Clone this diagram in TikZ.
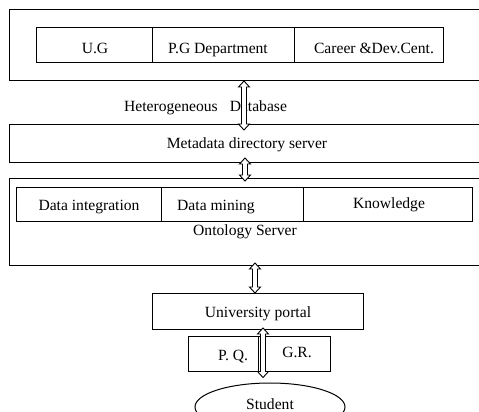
\documentclass[tikz,border=0pt]{standalone}
\usepackage{fontspec}
\setmainfont{Liberation Serif}
\usetikzlibrary{calc,shapes.geometric}

% hollow up-down arrow between two points (top first, bottom second)
\newcommand\hollowarrow[2]{%
  \filldraw[arrowshape] let \p1=(#1), \p2=(#2) in
    (\x1,\y1) -- (\x1+5.5pt,\y1-6pt) -- (\x1+2.5pt,\y1-6pt) -- (\x1+2.5pt,\y2+6pt)
    -- (\x1+5.5pt,\y2+6pt) -- (\x1,\y2) -- (\x1-5.5pt,\y2+6pt) -- (\x1-2.5pt,\y2+6pt)
    -- (\x1-2.5pt,\y1-6pt) -- (\x1-5.5pt,\y1-6pt) -- cycle;}

\begin{document}
\begin{tikzpicture}[x=1pt,y=-1pt,
  font=\fontsize{15.6}{18}\selectfont,
  box/.style={draw, line width=1pt, inner sep=0pt, anchor=north west},
  lbl/.style={anchor=base, inner sep=0pt},
  arrowshape/.style={draw, fill=white, line width=0.9pt, line join=miter}]
\useasboundingbox (0,0) rectangle (479,412);
\clip (0,0) rectangle (479,412);
\fill[white] (0,0) rectangle (479,412);

% source tier
\node[box, minimum width=473, minimum height=71] (campus) at (9,9) {};
\node[box, minimum width=116, minimum height=35] (ug) at (36,27) {};
\node[box, minimum width=142, minimum height=35] (pg) at (152,27) {};
\node[box, minimum width=149, minimum height=35] (cdc) at (294,27) {};
\node[lbl] at (95,53) {U.G};
\node[lbl] at (218,53) {P.G Department};
\node[lbl] at (374,53) {Career \&Dev.Cent.};

\node[lbl, anchor=base west] (hetero) at (124,111) {Heterogeneous\hspace{12pt}Database};

% metadata tier
\node[box, minimum width=473, minimum height=38] (meta) at (9,124) {};
\node[lbl] at (247,148) {Metadata directory server};

% ontology tier
\node[box, minimum width=473, minimum height=87] (onto) at (9,178) {};
\node[box, minimum width=145, minimum height=34] (di) at (16,187) {};
\node[box, minimum width=142, minimum height=34] (dm) at (161,187) {};
\node[box, minimum width=169, minimum height=34] (kn) at (303,187) {};
\node[lbl] at (89,210) {Data integration};
\node[lbl] at (216,210) {Data mining};
\node[lbl] at (389,208) {Knowledge};
\node[lbl] at (245,235) {Ontology Server};

% portal tier
\node[box, minimum width=211, minimum height=36] (portal) at (152,293) {};
\node[lbl] at (258,317) {University portal};
\node[box, minimum width=70, minimum height=35] (pq) at (188,336) {};
\node[box, minimum width=72, minimum height=35] (gr) at (258,336) {};
\node[lbl] at (233,360) {P. Q.};
\node[lbl] at (297,357) {G.R.};

\node[draw, line width=1pt, ellipse, minimum width=150, minimum height=48, inner sep=0pt] (student) at (270,407) {};
\node[lbl] at (270,409) {Student};

% links between tiers (the tips run a little into the boxes)
\hollowarrow{244,0 |- campus.south}{[yshift=-6pt]244,0 |- meta.north}
\hollowarrow{[yshift=5pt]245,0 |- meta.south}{[yshift=-3pt]245,0 |- onto.north}
\hollowarrow{[yshift=3pt]255,0 |- onto.south}{255,0 |- portal.north}
\hollowarrow{[yshift=2pt]263,0 |- portal.south}{[yshift=5pt]263,0 |- student.north}
\end{tikzpicture}
\end{document}
